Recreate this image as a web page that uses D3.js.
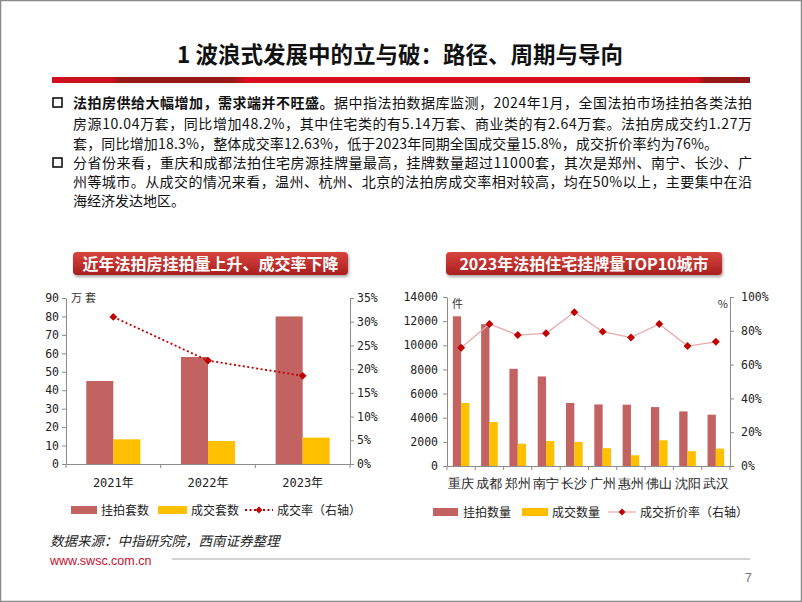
<!DOCTYPE html>
<html><head><meta charset="utf-8">
<script src="https://cdn.jsdelivr.net/npm/d3@7"></script>
<style>
body{margin:0;background:#fff;}
svg{display:block;font-family:"Noto Sans CJK SC","Noto Sans",sans-serif;}
</style></head>
<body>
<svg id="c" width="802" height="602"></svg>
<script>
// ---------- data ----------
const years = ["2021年", "2022年", "2023年"];
const listedUnits = [45, 58, 80];          // 挂拍套数 (万套)
const dealUnits = [13.4, 12.5, 14.3];      // 成交套数 (万套)
const dealRate = [0.31, 0.218, 0.186];     // 成交率 (右轴)
const leftTicks = [0,10,20,30,40,50,60,70,80,90];
const leftRightTicks = [0,0.05,0.10,0.15,0.20,0.25,0.30,0.35];

const cities = ["重庆","成都","郑州","南宁","长沙","广州","惠州","佛山","沈阳","武汉"];
const cityListed = [12400, 11750, 8050, 7420, 5220, 5100, 5080, 4880, 4520, 4250]; // 挂拍数量
const cityDeal = [5220, 3650, 1850, 2070, 1990, 1480, 890, 2130, 1230, 1440];       // 成交数量
const cityDiscount = [0.70, 0.84, 0.775, 0.785, 0.91, 0.795, 0.76, 0.84, 0.71, 0.735]; // 成交折价率
const rightTicks = [0,2000,4000,6000,8000,10000,12000,14000];
const rightRightTicks = [0,0.2,0.4,0.6,0.8,1.0];

const svg = d3.select("#c");
const monoFont = '"DejaVu Sans Mono","Noto Sans CJK SC",monospace';

// ---------- frame ----------
svg.append("rect").attr("x",0.5).attr("y",0.5).attr("width",801).attr("height",601)
  .attr("fill","none").attr("stroke","#8a8a8a").attr("stroke-width",1.5);

// ---------- title ----------
svg.append("text").attr("x",400).attr("y",63).attr("text-anchor","middle")
  .attr("font-size",22.5).attr("font-weight","bold").attr("fill","#111")
  .text("1 波浪式发展中的立与破：路径、周期与导向");

const defs = svg.append("defs");
const rg = defs.append("linearGradient").attr("id","redbar").attr("x1","0").attr("x2","1");
[[0,"#d0101e"],[0.085,"#d0101e"],[0.095,"#9a1818"],[0.26,"#9a1818"],[0.28,"#dc0f1e"],[0.925,"#dc0f1e"],[0.935,"#9a1818"],[1,"#8e1818"]]
  .forEach(([o,c])=>rg.append("stop").attr("offset",o).attr("stop-color",c));
svg.append("rect").attr("x",52).attr("y",77).attr("width",698).attr("height",6).attr("fill","url(#redbar)");

// ---------- body text ----------
const bodyFont = 14;
function bullet(y){
  svg.append("rect").attr("x",53).attr("y",y-10).attr("width",9).attr("height",9)
    .attr("fill","none").attr("stroke","#111").attr("stroke-width",1.6);
}
function line(y, parts, width){
  const t = svg.append("text").attr("x",73).attr("y",y).attr("font-size",bodyFont).attr("fill","#111");
  parts.forEach(p=>t.append("tspan").attr("font-weight",p.b?"bold":"normal").text(p.t));
  if(width){ t.attr("textLength",width).attr("lengthAdjust","spacing"); }
}
bullet(108);
line(108,[{t:"法拍房供给大幅增加，需求端并不旺盛。",b:true},{t:"据中指法拍数据库监测，2024年1月，全国法拍市场挂拍各类法拍"}],679);
line(129,[{t:"房源10.04万套，同比增加48.2%，其中住宅类的有5.14万套、商业类的有2.64万套。法拍房成交约1.27万"}],679);
line(149,[{t:"套，同比增加18.3%，整体成交率12.63%，低于2023年同期全国成交量15.8%，成交折价率约为76%。"}],645);
bullet(168);
line(168,[{t:"分省份来看，重庆和成都法拍住宅房源挂牌量最高，挂牌数量超过11000套，其次是郑州、南宁、长沙、广"}],679);
line(187,[{t:"州等城市。从成交的情况来看，温州、杭州、北京的法拍房成交率相对较高，均在50%以上，主要集中在沿"}],679);
line(206,[{t:"海经济发达地区。"}]);

// ---------- banners ----------
const bg = defs.append("linearGradient").attr("id","banner").attr("x1","0").attr("y1","0").attr("x2","0").attr("y2","1");
bg.append("stop").attr("offset",0).attr("stop-color","#d8453f");
bg.append("stop").attr("offset",1).attr("stop-color","#a91f1f");
const sh = defs.append("filter").attr("id","sh").attr("x","-10%").attr("y","-30%").attr("width","120%").attr("height","170%");
sh.append("feDropShadow").attr("dx",1).attr("dy",2).attr("stdDeviation",1.5).attr("flood-color","#000").attr("flood-opacity",0.35);
function banner(x,w,txt){
  svg.append("rect").attr("x",x).attr("y",252).attr("width",w).attr("height",23).attr("rx",4)
    .attr("fill","url(#banner)").attr("filter","url(#sh)");
  svg.append("text").attr("x",x+w/2).attr("y",269.5).attr("text-anchor","middle")
    .attr("font-size",16).attr("font-weight","bold").attr("fill","#fff").text(txt);
}
banner(73,275,"近年法拍房挂拍量上升、成交率下降");
banner(446,276,"2023年法拍住宅挂牌量TOP10城市");

const barRed = "#c26361", barGold = "#ffc000", lineRed = "#c00000";

function styleAxis(g){
  g.selectAll("path,line").attr("stroke","#8c8c8c");
  g.selectAll("text").attr("fill","#222");
}

// ---------- left chart ----------
(function(){
  const x0=66, x1=350, yb=464, yt=298;
  const x = d3.scaleBand().domain(years).range([x0,x1]);
  const xs = d3.scaleBand().domain(["l","d"]).range([0,x.bandwidth()]).paddingOuter(0.75);
  const yL = d3.scaleLinear().domain([0,90]).range([yb,yt]);
  const yR = d3.scaleLinear().domain([0,0.35]).range([yb,yt]);

  const g = svg.append("g");
  g.selectAll(".bl").data(years).join("rect")
    .attr("x",d=>x(d)+xs("l")).attr("width",xs.bandwidth())
    .attr("y",(d,i)=>yL(listedUnits[i])).attr("height",(d,i)=>yb-yL(listedUnits[i])).attr("fill",barRed);
  g.selectAll(".bd").data(years).join("rect")
    .attr("x",d=>x(d)+xs("d")).attr("width",xs.bandwidth())
    .attr("y",(d,i)=>yL(dealUnits[i])).attr("height",(d,i)=>yb-yL(dealUnits[i])).attr("fill",barGold);

  const ax = g.append("g").attr("transform",`translate(${x0},0)`)
    .call(d3.axisLeft(yL).tickValues(leftTicks).tickSize(4).tickPadding(3).tickSizeOuter(0));
  ax.selectAll("text").attr("font-family",monoFont).attr("font-size",11.5);
  styleAxis(ax);
  const axr = g.append("g").attr("transform",`translate(${x1},0)`)
    .call(d3.axisRight(yR).tickValues(leftRightTicks).tickFormat(d3.format(".0%")).tickSize(4).tickPadding(3).tickSizeOuter(0));
  axr.selectAll("text").attr("font-family",monoFont).attr("font-size",11.5);
  styleAxis(axr);
  const axb = g.append("g").attr("transform",`translate(0,${yb})`)
    .call(d3.axisBottom(x).tickSize(0).tickPadding(14).tickSizeOuter(0));
  axb.selectAll("text").attr("font-family",monoFont).attr("font-size",12);
  styleAxis(axb);
  const bounds = years.map(d=>x(d)).concat([x1]);
  g.selectAll(".bt").data(bounds).join("line")
    .attr("x1",d=>d).attr("x2",d=>d).attr("y1",yb).attr("y2",yb+4).attr("stroke","#8c8c8c");

  g.append("text").attr("x",71).attr("y",yt+4).attr("font-size",11).attr("fill","#333")
    .attr("letter-spacing",3).text("万套");

  const ln = d3.line().x((d,i)=>x(years[i])+x.bandwidth()/2).y(d=>yR(d));
  g.append("path").attr("d",ln(dealRate)).attr("fill","none").attr("stroke",lineRed)
    .attr("stroke-width",1.8).attr("stroke-dasharray","2,2.5");
  g.selectAll(".pt").data(dealRate).join("path")
    .attr("d",d3.symbol(d3.symbolDiamond2,38))
    .attr("transform",(d,i)=>`translate(${x(years[i])+x.bandwidth()/2},${yR(d)})`).attr("fill",lineRed);

  // legend
  const ly = 510;
  g.append("rect").attr("x",71).attr("y",ly-4).attr("width",26).attr("height",8).attr("fill",barRed);
  g.append("text").attr("x",101).attr("y",ly+4.5).attr("font-size",12).attr("fill","#222").text("挂拍套数");
  g.append("rect").attr("x",158).attr("y",ly-4).attr("width",29).attr("height",8).attr("fill",barGold);
  g.append("text").attr("x",191).attr("y",ly+4.5).attr("font-size",12).attr("fill","#222").text("成交套数");
  g.append("line").attr("x1",245).attr("x2",273).attr("y1",ly).attr("y2",ly).attr("stroke",lineRed)
    .attr("stroke-width",1.8).attr("stroke-dasharray","2,2.5");
  g.append("path").attr("d",d3.symbol(d3.symbolDiamond2,30)).attr("transform",`translate(259,${ly})`).attr("fill",lineRed);
  g.append("text").attr("x",277).attr("y",ly+4.5).attr("font-size",12).attr("fill","#222").text("成交率（右轴）");
})();

// ---------- right chart ----------
(function(){
  const x0=447, x1=730, yb=466, yt=297;
  const x = d3.scaleBand().domain(cities).range([x0,x1]);
  const xs = d3.scaleBand().domain(["l","d"]).range([0,x.bandwidth()]).paddingOuter(0.7);
  const yL = d3.scaleLinear().domain([0,14000]).range([yb,yt]);
  const yR = d3.scaleLinear().domain([0,1]).range([yb,yt]);

  const g = svg.append("g");
  g.selectAll(".bl").data(cities).join("rect")
    .attr("x",d=>x(d)+xs("l")).attr("width",xs.bandwidth())
    .attr("y",(d,i)=>yL(cityListed[i])).attr("height",(d,i)=>yb-yL(cityListed[i])).attr("fill",barRed);
  g.selectAll(".bd").data(cities).join("rect")
    .attr("x",d=>x(d)+xs("d")).attr("width",xs.bandwidth())
    .attr("y",(d,i)=>yL(cityDeal[i])).attr("height",(d,i)=>yb-yL(cityDeal[i])).attr("fill",barGold);

  const ax = g.append("g").attr("transform",`translate(${x0},0)`)
    .call(d3.axisLeft(yL).tickValues(rightTicks).tickFormat(d3.format("d")).tickSize(4).tickPadding(5).tickSizeOuter(0));
  ax.selectAll("text").attr("font-family",monoFont).attr("font-size",11.5);
  styleAxis(ax);
  const axr = g.append("g").attr("transform",`translate(${x1},0)`)
    .call(d3.axisRight(yR).tickValues(rightRightTicks).tickFormat(d3.format(".0%")).tickSize(4).tickPadding(7).tickSizeOuter(0));
  axr.selectAll("text").attr("font-family",monoFont).attr("font-size",11.5);
  styleAxis(axr);
  const axb = g.append("g").attr("transform",`translate(0,${yb})`)
    .call(d3.axisBottom(x).tickSize(0).tickPadding(13).tickSizeOuter(0));
  axb.selectAll("text").attr("font-size",12.5);
  styleAxis(axb);
  const bounds = cities.map(d=>x(d)).concat([x1]);
  g.selectAll(".bt").data(bounds).join("line")
    .attr("x1",d=>d).attr("x2",d=>d).attr("y1",yb).attr("y2",yb+4).attr("stroke","#8c8c8c");

  g.append("text").attr("x",452).attr("y",yt+11).attr("font-size",11).attr("fill","#333").text("件");
  g.append("text").attr("x",728).attr("y",yt+11).attr("text-anchor","end").attr("font-size",11).attr("fill","#333").text("%");

  const ln = d3.line().x((d,i)=>x(cities[i])+x.bandwidth()/2).y(d=>yR(d));
  g.append("path").attr("d",ln(cityDiscount)).attr("fill","none").attr("stroke","#e9a9a9").attr("stroke-width",1.2);
  g.selectAll(".pt").data(cityDiscount).join("path")
    .attr("d",d3.symbol(d3.symbolDiamond2,40))
    .attr("transform",(d,i)=>`translate(${x(cities[i])+x.bandwidth()/2},${yR(d)})`).attr("fill",lineRed);

  const ly = 512;
  g.append("rect").attr("x",433).attr("y",ly-4).attr("width",25).attr("height",8).attr("fill",barRed);
  g.append("text").attr("x",463).attr("y",ly+4.5).attr("font-size",12).attr("fill","#222").text("挂拍数量");
  g.append("rect").attr("x",522).attr("y",ly-4).attr("width",26).attr("height",8).attr("fill",barGold);
  g.append("text").attr("x",552).attr("y",ly+4.5).attr("font-size",12).attr("fill","#222").text("成交数量");
  g.append("line").attr("x1",608).attr("x2",636).attr("y1",ly).attr("y2",ly).attr("stroke","#e9a9a9").attr("stroke-width",1.2);
  g.append("path").attr("d",d3.symbol(d3.symbolDiamond2,30)).attr("transform",`translate(622,${ly})`).attr("fill",lineRed);
  g.append("text").attr("x",640).attr("y",ly+4.5).attr("font-size",12).attr("fill","#222").text("成交折价率（右轴）");
})();

// ---------- footer ----------
svg.append("text").attr("x",50).attr("y",546).attr("font-size",13.5).attr("font-style","italic")
  .attr("fill","#222").text("数据来源：中指研究院，西南证券整理");
svg.append("text").attr("x",50).attr("y",565).attr("font-size",12.5)
  .attr("font-family",'"Liberation Sans",Arial,sans-serif').attr("fill","#c8102e").text("www.swsc.com.cn");
svg.append("line").attr("x1",172).attr("x2",750).attr("y1",559).attr("y2",559).attr("stroke","#c4c4c4").attr("stroke-width",1.5);
svg.append("text").attr("x",752).attr("y",582).attr("text-anchor","end").attr("font-size",13)
  .attr("font-family",'"Liberation Sans",Arial,sans-serif').attr("fill","#777").text("7");
</script>
</body></html>
